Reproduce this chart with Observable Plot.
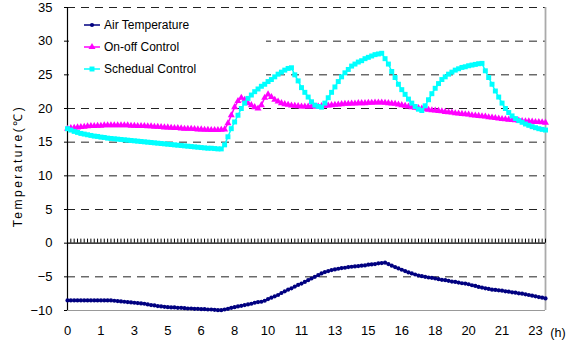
<!DOCTYPE html>
<html><head><meta charset="utf-8">
<script src="https://cdn.jsdelivr.net/npm/d3@7"></script>
<script src="https://cdn.jsdelivr.net/npm/@observablehq/plot@0.6"></script>
<style>body{margin:0;background:#fff;} svg{display:block}</style>
</head><body><div id="chart"></div>
<script>
// 10-minute samples, index 0..143
const airTemperature = [
-8.5,-8.5,-8.5,-8.5,-8.5,-8.5,-8.5,-8.5,-8.5,-8.5,-8.5,-8.5,
-8.5,-8.5,-8.55,-8.6,-8.65,-8.7,-8.75,-8.8,-8.85,-8.9,-8.95,-9.0,
-9.1,-9.2,-9.25,-9.35,-9.4,-9.45,-9.5,-9.55,-9.55,-9.6,-9.6,-9.65,
-9.7,-9.7,-9.75,-9.75,-9.8,-9.8,-9.85,-9.85,-9.9,-9.95,-9.95,-9.85,
-9.75,-9.6,-9.5,-9.4,-9.3,-9.2,-9.1,-9.0,-8.85,-8.75,-8.7,-8.55,
-8.3,-8.1,-7.9,-7.7,-7.4,-7.15,-6.9,-6.7,-6.45,-6.2,-6.0,-5.75,
-5.5,-5.25,-5.0,-4.75,-4.5,-4.3,-4.15,-4.0,-3.9,-3.8,-3.7,-3.65,
-3.55,-3.5,-3.45,-3.4,-3.35,-3.3,-3.2,-3.15,-3.1,-3.0,-2.95,-2.9,
-3.1,-3.35,-3.55,-3.75,-3.95,-4.15,-4.35,-4.5,-4.65,-4.8,-4.9,-5.0,
-5.1,-5.15,-5.25,-5.35,-5.45,-5.5,-5.6,-5.7,-5.75,-5.85,-5.95,-6.0,
-6.1,-6.25,-6.35,-6.5,-6.6,-6.7,-6.8,-6.9,-6.95,-7.0,-7.05,-7.15,
-7.2,-7.3,-7.35,-7.45,-7.5,-7.6,-7.7,-7.8,-7.9,-8.0,-8.1,-8.2];
const onOffControl = [
17.0,17.1,17.15,17.2,17.25,17.3,17.35,17.4,17.4,17.45,17.45,17.5,
17.5,17.5,17.5,17.5,17.5,17.5,17.5,17.45,17.45,17.4,17.4,17.4,
17.35,17.35,17.3,17.3,17.25,17.2,17.2,17.15,17.1,17.1,17.05,17.0,
17.0,17.0,16.95,16.9,16.9,16.85,16.85,16.8,16.8,16.8,16.85,16.9,
17.8,19.0,20.2,21.1,21.6,21.3,20.8,20.5,20.2,20.0,20.5,21.6,
22.1,21.7,21.3,21.05,20.8,20.65,20.55,20.45,20.4,20.35,20.3,20.3,
20.3,20.3,20.3,20.3,20.35,20.4,20.45,20.5,20.55,20.6,20.65,20.7,
20.7,20.75,20.75,20.8,20.8,20.8,20.85,20.85,20.9,20.9,20.9,20.85,
20.8,20.75,20.7,20.6,20.5,20.4,20.3,20.2,20.1,20.05,20.0,19.9,
19.8,19.75,19.7,19.65,19.6,19.5,19.45,19.4,19.3,19.25,19.2,19.15,
19.1,19.0,18.95,18.9,18.85,18.8,18.7,18.65,18.6,18.5,18.45,18.4,
18.35,18.3,18.25,18.2,18.15,18.1,18.1,18.05,18.0,18.0,17.95,17.9];
const schedualControl = [
17.0,16.8,16.6,16.45,16.3,16.2,16.1,16.0,15.9,15.85,15.75,15.7,
15.6,15.55,15.5,15.45,15.4,15.35,15.3,15.25,15.2,15.15,15.1,15.05,
15.0,14.95,14.9,14.85,14.8,14.75,14.7,14.65,14.6,14.55,14.5,14.45,
14.4,14.35,14.3,14.25,14.2,14.15,14.1,14.1,14.05,14.0,14.0,14.6,
15.8,17.0,18.0,19.0,20.0,20.8,21.5,22.0,22.5,22.9,23.3,23.6,
24.0,24.3,24.7,25.1,25.4,25.7,25.95,26.05,25.0,24.1,23.1,22.4,
21.7,21.0,20.5,20.3,20.2,20.8,21.6,22.4,23.2,24.0,24.7,25.3,
25.8,26.3,26.6,26.9,27.1,27.4,27.6,27.8,28.0,28.1,28.2,27.4,
26.6,25.5,24.6,23.6,22.8,22.1,21.4,20.8,20.3,19.9,19.7,20.4,
21.3,22.2,23.0,23.7,24.3,24.7,25.1,25.4,25.7,25.9,26.1,26.2,
26.35,26.45,26.55,26.65,26.7,25.6,24.6,23.6,22.6,21.7,20.8,20.0,
19.4,18.9,18.5,18.2,17.95,17.7,17.5,17.3,17.15,17.0,16.9,16.8];
const xTickPositions = [0,10,20,30,40,50,60,70,80,90,100,110,120,130,140];
const xTickLabels = ["0","1","3","5","6","8","10","11","13","15","16","18","20","21","23"];
const yTicks = [-10,-5,0,5,10,15,20,25,30,35];
const seriesNames = ["Air Temperature","On-off Control","Schedual Control"];
const yLabel = "Temperature(\u2103)";
const xUnit = "(h)";

const colors = ["#000080","#FF00FF","#00FFFF"];
const symbols = ["circle","triangle","square"];
const radii = [2.1,2.6,2.8];
const allSeries = [airTemperature, onOffControl, schedualControl];
const indices = airTemperature.map((_, i) => i);
const rows = allSeries.map(arr => arr.map((v, i) => ({i, v})));

const seriesMarks = [];
rows.forEach((r, k) => {
  seriesMarks.push(Plot.line(r, {x: "i", y: "v", stroke: colors[k], strokeWidth: 1.5}));
  seriesMarks.push(Plot.dot(r, {x: "i", y: "v", symbol: symbols[k], r: radii[k], fill: colors[k], stroke: "none"}));
});

const plot = Plot.plot({
  width: 576, height: 340,
  marginLeft: 67, marginRight: 31, marginTop: 7, marginBottom: 30,
  style: {fontFamily: "'Liberation Sans', Arial, sans-serif", fontSize: "13px", background: "white", color: "#000"},
  x: {domain: [0, 143], axis: null},
  y: {domain: [-10, 35], axis: null},
  marks: [
    Plot.ruleY(yTicks.filter(v => v !== 0 && v !== -10), {stroke: "#222", strokeDasharray: "8,6", strokeWidth: 1}),
    Plot.ruleY([-10], {stroke: "#999", strokeWidth: 1.2}),
    Plot.ruleX([143], {stroke: "#aaa", strokeWidth: 1.8}),
    Plot.ruleY([0], {stroke: "black", strokeWidth: 1.2}),
    Plot.ruleX(indices, {x: d => d, y1: 0, y2: 0.6, stroke: "black", strokeWidth: 1}),
    Plot.ruleX([0], {stroke: "black", strokeWidth: 1.2}),
    Plot.axisY({ticks: yTicks, tickSize: 3, tickPadding: 12, fontSize: 13, label: null}),
    Plot.axisX({ticks: xTickPositions, tickFormat: d => xTickLabels[xTickPositions.indexOf(d)], tickSize: 0, tickPadding: 15, fontSize: 13, label: null}),
    ...seriesMarks
  ]
});
document.getElementById("chart").appendChild(plot);

const svg = d3.select(plot);
const NS = "http://www.w3.org/2000/svg";
// white legend background placed behind the series but above the gridlines
const bg = document.createElementNS(NS, "rect");
bg.setAttribute("x", 69); bg.setAttribute("y", 12); bg.setAttribute("width", 197); bg.setAttribute("height", 80);
bg.setAttribute("fill", "white");
plot.querySelector('g[aria-label="rule"]').after(bg);

const lg = svg.append("g").attr("font-family", "'Liberation Sans', Arial, sans-serif").attr("font-size", "12px").attr("text-anchor", "start");
seriesNames.forEach((name, k) => {
  const y = 25 + k * 22;
  lg.append("line").attr("x1", 84).attr("x2", 100).attr("y1", y).attr("y2", y).attr("stroke", colors[k]).attr("stroke-width", 1.5);
  lg.append("path").attr("transform", `translate(92,${y})`)
    .attr("d", d3.symbol(k === 0 ? d3.symbolCircle : k === 1 ? d3.symbolTriangle : d3.symbolSquare, Math.PI * radii[k] * radii[k])())
    .attr("fill", colors[k]);
  lg.append("text").attr("x", 104).attr("y", y + 4).attr("fill", "#000").text(name);
});
// axis labels
svg.append("text").attr("transform", "translate(22,166) rotate(-90)")
  .attr("text-anchor", "middle").attr("font-family", "'Liberation Sans', Arial, sans-serif")
  .attr("font-size", "12px").attr("letter-spacing", "2.5px").attr("fill", "#000").text(yLabel);
svg.append("text").attr("x", 558).attr("y", 337).attr("text-anchor", "middle")
  .attr("font-family", "'Liberation Sans', Arial, sans-serif").attr("font-size", "12.5px").attr("fill", "#000").text(xUnit);
</script>
</body></html>
